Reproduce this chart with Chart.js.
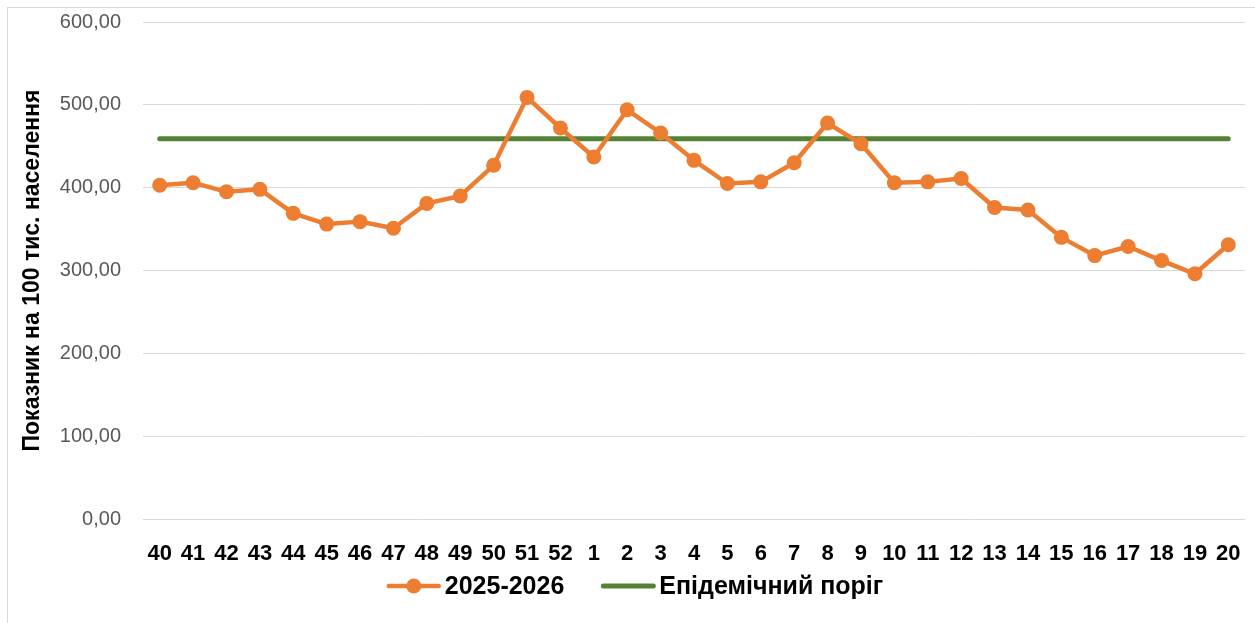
<!DOCTYPE html>
<html>
<head>
<meta charset="utf-8">
<script src="https://cdn.jsdelivr.net/npm/chart.js@4.4.1/dist/chart.umd.min.js"></script>
<style>
html,body{margin:0;padding:0;background:#fff;overflow:hidden;}
#wrap{position:relative;width:1255px;height:623px;}
</style>
</head>
<body>
<div id="wrap"><canvas id="c" width="1255" height="623"></canvas></div>
<script>
const weeks = ['40','41','42','43','44','45','46','47','48','49','50','51','52','1','2','3','4','5','6','7','8','9','10','11','12','13','14','15','16','17','18','19','20'];
const season = [403,406,395,398,369,356,359,351,381,390,427,509,472,437,494,466,433,405,407,430,478,453,406,407,411,376,373,340,318,329,312,296,331];
const threshold = [459,459,459,459,459,459,459,459,459,459,459,459,459,459,459,459,459,459,459,459,459,459,459,459,459,459,459,459,459,459,459,459,459];
const seriesNames = ['2025-2026','Епідемічний поріг'];
const yTitle = 'Показник на 100 тис. населення';
const yTicks = [0,100,200,300,400,500,600];

const ORANGE = '#ED7D31', GREEN = '#548235';

const framePlugin = {
  id: 'frame',
  beforeDraw(chart){
    const ctx = chart.ctx;
    ctx.save();
    ctx.strokeStyle = '#d9d9d9';
    ctx.lineWidth = 1;
    ctx.strokeRect(7.5, 7.5, 1400, 800);
    ctx.restore();
  }
};

const legendPlugin = {
  id: 'customLegend',
  afterDraw(chart){
    const ctx = chart.ctx;
    ctx.save();
    ctx.font = 'bold 25px "Liberation Sans", Arial, sans-serif';
    ctx.textBaseline = 'middle';
    const w1 = ctx.measureText(seriesNames[0]).width;
    const w2 = ctx.measureText(seriesNames[1]).width;
    const lineLen = 50, gapT = 6, gapItems = 39;
    const total = lineLen + gapT + w1 + gapItems + lineLen + gapT + w2;
    let x = 636 - total/2;
    const y = 586;
    ctx.strokeStyle = ORANGE; ctx.lineWidth = 4.5; ctx.lineCap = 'round';
    ctx.beginPath(); ctx.moveTo(x, y); ctx.lineTo(x+lineLen, y); ctx.stroke();
    ctx.fillStyle = ORANGE;
    ctx.beginPath(); ctx.arc(x+lineLen/2, y, 7.5, 0, Math.PI*2); ctx.fill();
    x += lineLen + gapT;
    ctx.fillStyle = '#000';
    ctx.fillText(seriesNames[0], x, y+1);
    x += w1 + gapItems;
    ctx.strokeStyle = GREEN; ctx.lineWidth = 5;
    ctx.beginPath(); ctx.moveTo(x, y); ctx.lineTo(x+lineLen, y); ctx.stroke();
    x += lineLen + gapT;
    ctx.fillStyle = '#000';
    ctx.fillText(seriesNames[1], x, y+1);
    ctx.restore();
  }
};

new Chart(document.getElementById('c'), {
  type: 'line',
  data: {
    labels: weeks,
    datasets: [
      {
        label: seriesNames[0],
        data: season,
        borderColor: ORANGE,
        backgroundColor: ORANGE,
        borderWidth: 4.5,
        pointRadius: 7.5,
        pointHoverRadius: 7.5,
        pointBorderWidth: 0,
        pointBackgroundColor: ORANGE,
        tension: 0,
        order: 0,
        borderJoinStyle: 'round',
        borderCapStyle: 'round'
      },
      {
        label: seriesNames[1],
        data: threshold,
        borderColor: GREEN,
        backgroundColor: GREEN,
        borderWidth: 5,
        pointRadius: 0,
        pointHoverRadius: 0,
        tension: 0,
        order: 1,
        borderCapStyle: 'round'
      }
    ]
  },
  options: {
    responsive: false,
    animation: false,
    events: [],
    layout: { padding: { left: 0, right: 10, top: 22, bottom: 0 } },
    plugins: { legend: { display: false }, tooltip: { enabled: false } },
    scales: {
      x: {
        offset: true,
        grid: { display: false, drawTicks: false },
        border: { display: false },
        ticks: {
          color: '#000',
          font: { family: '"Liberation Sans", Arial, sans-serif', size: 22, weight: 'bold' },
          padding: 22,
          autoSkip: false,
          maxRotation: 0
        },
        afterFit(scale){ scale.height = 104; scale.paddingLeft = 0; scale.paddingRight = 0; }
      },
      y: {
        min: 0, max: 600,
        afterBuildTicks(scale){ scale.ticks = yTicks.map(v => ({ value: v })); },
        grid: { color: '#d9d9d9', lineWidth: 1, drawTicks: false },
        border: { display: false },
        ticks: {
          color: '#595959',
          font: { family: '"Liberation Sans", Arial, sans-serif', size: 20 },
          padding: 22,
          callback: v => v.toFixed(2).replace('.', ',')
        },
        title: {
          display: true,
          text: yTitle,
          color: '#000',
          font: { family: '"Liberation Sans", Arial, sans-serif', size: 23, weight: 'bold' },
          padding: { top: 19, bottom: 0 }
        },
        afterFit(scale){ scale.width = 143; scale.paddingTop = 0; scale.paddingBottom = 0; }
      }
    }
  },
  plugins: [framePlugin, legendPlugin]
});
</script>
</body>
</html>
